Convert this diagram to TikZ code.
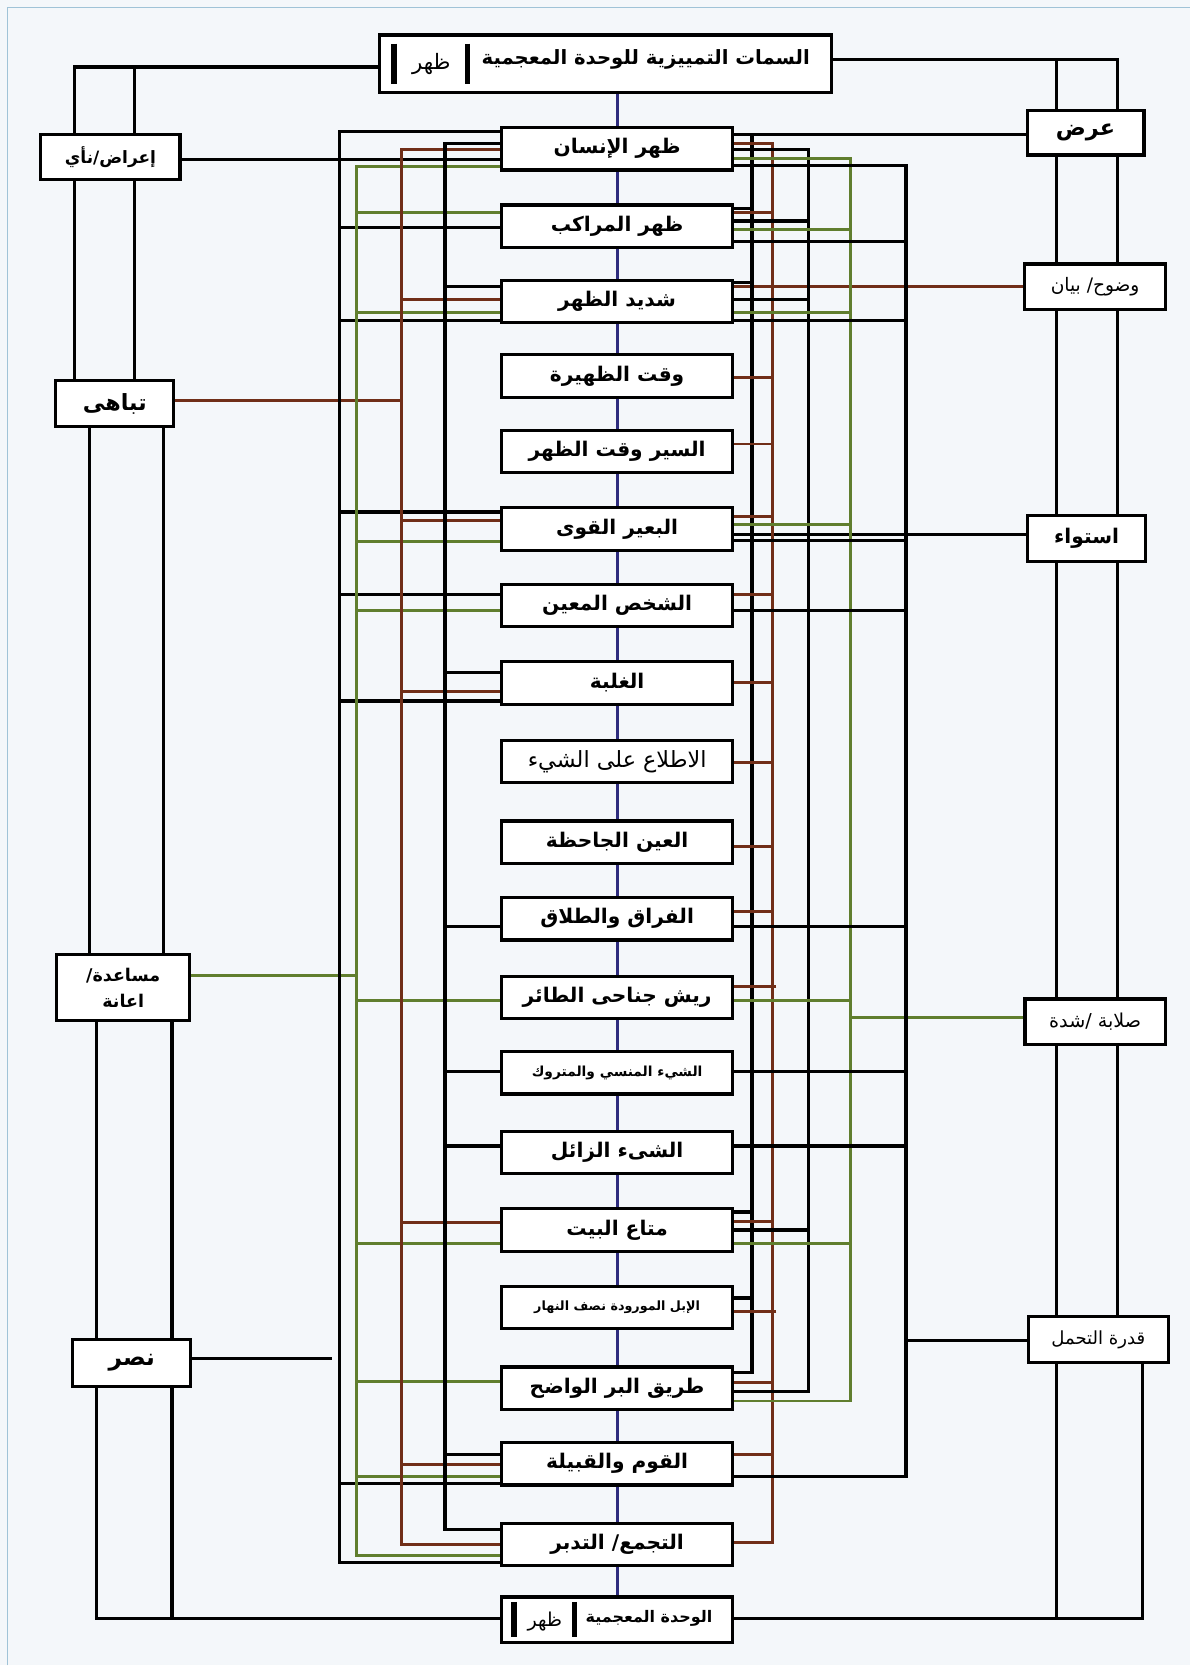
\documentclass[tikz,border=0pt]{standalone}
\usepackage{fontspec}
\newfontfamily\arfont[Script=Arabic]{DejaVu Sans}
\TeXXeTstate=1

\definecolor{lanebrown}{RGB}{112,46,24}
\definecolor{lanegreen}{RGB}{96,126,46}
\definecolor{spinenavy}{RGB}{46,44,126}
\definecolor{paper}{RGB}{244,247,250}
\definecolor{rimblue}{RGB}{160,195,215}

\tikzset{
  box/.style={draw=black, line width=3pt, fill=white, minimum width=218pt,
    minimum height=40pt, inner sep=0pt, font=\arfont\bfseries\fontsize{19}{20}\selectfont},
  sidebox/.style={draw=black, line width=3pt, fill=white, minimum height=42pt,
    inner sep=0pt, align=center, font=\arfont\bfseries\fontsize{16}{20}\selectfont},
  blk/.style={line width=3pt, black},
  brn/.style={line width=2.8pt, lanebrown},
  grn/.style={line width=2.8pt, lanegreen},
  spine/.style={line width=3pt, spinenavy},
  rimline/.style={line width=1pt, rimblue}
}

\begin{document}
\begin{tikzpicture}[x=1pt,y=-1pt]
\fill[paper] (0,0) rectangle (1120,1568);
\draw[rimline] (7,1568) -- (7,7) -- (1120,7);

% title and bottom unit
\draw (570,60) node[box, minimum width=425pt, minimum height=54pt] (top) {};
\draw (608,56) node[font=\arfont\bfseries\fontsize{18.5}{20}\selectfont] (toptext) {\beginR السمات التمييزية للوحدة المعجمية\endR};
\draw (406,60) node[font=\arfont\fontsize{20}{22}\selectfont] (topkey) {\beginR ظهر\endR};
\draw[line width=5pt] (371,41) -- (371,79) (440,41) -- (440,79);

\draw (581,1525) node[box, minimum height=43pt] (bot) {};
\draw (611,1524) node[font=\arfont\bfseries\fontsize{15}{16}\selectfont] (bottext) {\beginR الوحدة المعجمية\endR};
\draw (513,1527) node[font=\arfont\fontsize{18}{20}\selectfont] (botkey) {\beginR ظهر\endR};
\draw[line width=5pt] (484,1508) -- (484,1541) (541,1508) -- (541,1541);

% senses
\draw (581,140) node[box] (b1) {\beginR ظهر الإنسان\endR};
\draw (581,213) node[box] (b2) {\beginR ظهر المراكب\endR};
\draw (581,284) node[box] (b3) {\beginR شديد الظهر\endR};
\draw (581,354) node[box] (b4) {\beginR وقت الظهيرة\endR};
\draw (581,425) node[box] (b5) {\beginR السير وقت الظهر\endR};
\draw (581,498) node[box] (b6) {\beginR البعير القوى\endR};
\draw (581,570) node[box] (b7) {\beginR الشخص المعين\endR};
\draw (581,643) node[box] (b8) {\beginR الغلبة\endR};
\draw (581,717) node[box, font=\arfont\fontsize{21}{22}\selectfont] (b9) {\beginR الاطلاع على الشيء\endR};
\draw (581,793) node[box] (b10) {\beginR العين الجاحظة\endR};
\draw (581,865) node[box] (b11) {\beginR الفراق والطلاق\endR};
\draw (581,939) node[box] (b12) {\beginR ريش جناحى الطائر\endR};
\draw (581,1010) node[box, font=\arfont\bfseries\fontsize{13}{16}\selectfont] (b13) {\beginR الشيء المنسي والمتروك\endR};
\draw (581,1085) node[box] (b14) {\beginR الشىء الزائل\endR};
\draw (581,1158) node[box] (b15) {\beginR متاع البيت\endR};
\draw (581,1231) node[box, font=\arfont\bfseries\fontsize{12}{16}\selectfont] (b16) {\beginR الإبل المورودة نصف النهار\endR};
\draw (581,1307) node[box] (b17) {\beginR طريق البر الواضح\endR};
\draw (581,1378) node[box] (b18) {\beginR القوم والقبيلة\endR};
\draw (581,1454) node[box] (b19) {\beginR التجمع/ التدبر\endR};

% features, left
\draw (104,148) node[sidebox, minimum width=131pt, font=\arfont\bfseries\fontsize{16}{18}\selectfont] (a1) {\beginR إعراض/نأي\endR};
\draw (108,380) node[sidebox, minimum width=111pt, minimum height=43pt, font=\arfont\bfseries\fontsize{21}{22}\selectfont] (a2) {\beginR تباهى\endR};
\draw (116,930) node[sidebox, minimum width=125pt, minimum height=62pt, font=\arfont\bfseries\fontsize{16.5}{24}\selectfont] (a3) {\beginR مساعدة/\endR\\\beginR اعانة\endR};
\draw (124,1283) node[sidebox, minimum width=111pt, minimum height=44pt, font=\arfont\bfseries\fontsize{22}{22}\selectfont] (a4) {\beginR نصر\endR};

% features, right
\draw (1022,125) node[sidebox, minimum width=110pt, font=\arfont\bfseries\fontsize{21}{22}\selectfont] (r1) {\beginR عرض\endR};
\draw (1031,270) node[sidebox, minimum width=133pt, minimum height=43pt, font=\arfont\fontsize{17.5}{18}\selectfont] (r2) {\beginR وضوح/ بيان\endR};
\draw (1023,507) node[sidebox, minimum width=111pt, minimum height=43pt, font=\arfont\bfseries\fontsize{19}{20}\selectfont] (r3) {\beginR استواء\endR};
\draw (1031,962) node[sidebox, minimum width=132pt, minimum height=43pt, font=\arfont\fontsize{18}{18}\selectfont] (r4) {\beginR صلابة /شدة\endR};
\draw (1034,1261) node[sidebox, minimum width=132pt, minimum height=43pt, font=\arfont\fontsize{17}{18}\selectfont] (r5) {\beginR قدرة التحمل\endR};

% navy spine
\draw[spine] (top.south -| b1) -- (b1.north) (b1.south) -- (b2.north)
  (b2.south) -- (b3.north) (b3.south) -- (b4.north) (b4.south) -- (b5.north)
  (b5.south) -- (b6.north) (b6.south) -- (b7.north) (b7.south) -- (b8.north)
  (b8.south) -- (b9.north) (b9.south) -- (b10.north) (b10.south) -- (b11.north)
  (b11.south) -- (b12.north) (b12.south) -- (b13.north) (b13.south) -- (b14.north)
  (b14.south) -- (b15.north) (b15.south) -- (b16.north) (b16.south) -- (b17.north)
  (b17.south) -- (b18.north) (b18.south) -- (b19.north) (b19.south) -- (bot.north);

% outer frame, left
\draw[blk] (top.west |- 0,63) -- (70,63) -- (a1.north -| 70,0) (127,63) -- (a1.north -| 127,0);
\draw[blk] (a1.south -| 70,0) -- (a2.north -| 70,0) (a1.south -| 127,0) -- (a2.north -| 127,0);
\draw[blk] (a2.south -| 84,0) -- (a3.north -| 84,0) (a2.south -| 154,0) -- (a3.north -| 154,0);
\draw[blk] (a3.south -| 91,0) -- (a4.north -| 91,0) (a3.south -| 162,0) -- (a4.north -| 162,0);
\draw[blk] (a4.south -| 91,0) -- (91,1524) -- (bot.west |- 0,1524) (a4.south -| 162,0) -- (162,1524);

% outer frame, right
\draw[blk] (top.east |- 0,56) -- (1052,56) -- (r1.north -| 1052,0) (995,56) -- (r1.north -| 995,0);
\draw[blk] (r1.south -| 995,0) -- (r2.north -| 995,0) (r1.south -| 1052,0) -- (r2.north -| 1052,0);
\draw[blk] (r2.south -| 995,0) -- (r3.north -| 995,0) (r2.south -| 1052,0) -- (r3.north -| 1052,0);
\draw[blk] (r3.south -| 995,0) -- (r4.north -| 995,0) (r3.south -| 1052,0) -- (r4.north -| 1052,0);
\draw[blk] (r4.south -| 995,0) -- (r5.north -| 995,0) (r4.south -| 1052,0) -- (r5.north -| 1052,0);
\draw[blk] (r5.south -| 1076,0) -- (1076,1524) -- (bot.east |- 0,1524) (r5.south -| 995,0) -- (995,1524);

% features to senses
\draw[blk] (a1.east |- 0,150) -- (b1.west |- 0,150);
\draw[brn] (a2.east |- 0,377) -- (378,377);
\draw[grn] (a3.east |- 0,918) -- (336,918);
\draw[blk] (a4.east |- 0,1279) -- (313,1279);
\draw[blk] (r1.west |- 0,127) -- (b1.east |- 0,127);
\draw[brn] (r2.west |- 0,270) -- (b3.east |- 0,270);
\draw[blk] (r3.west |- 0,503) -- (b6.east |- 0,503);
\draw[grn] (r4.west |- 0,958) -- (801,958);
\draw[blk] (r5.west |- 0,1262) -- (853,1262);

% left lanes
\draw[blk] (b1.west |- 0,124) -- (320,124) -- (320,1471) -- (b19.west |- 0,1471)
  (320,214) -- (b2.west |- 0,214) (320,302) -- (b3.west |- 0,302)
  (320,482) -- (b6.west |- 0,482) (320,560) -- (b7.west |- 0,560)
  (320,660) -- (b8.west |- 0,660) (320,1397) -- (b18.west |- 0,1397);
\draw[grn] (b1.west |- 0,157) -- (336,157) -- (336,1464) -- (b19.west |- 0,1464)
  (336,200) -- (b2.west |- 0,200) (336,294) -- (b3.west |- 0,294)
  (336,510) -- (b6.west |- 0,510) (336,575) -- (b7.west |- 0,575)
  (336,942) -- (b12.west |- 0,942) (336,1171) -- (b15.west |- 0,1171)
  (336,1301) -- (b17.west |- 0,1301) (336,1390) -- (b18.west |- 0,1390);
\draw[brn] (b1.west |- 0,141) -- (378,141) -- (378,1454) -- (b19.west |- 0,1454)
  (378,282) -- (b3.west |- 0,282) (378,490) -- (b6.west |- 0,490)
  (378,651) -- (b8.west |- 0,651) (378,1151) -- (b15.west |- 0,1151)
  (378,1379) -- (b18.west |- 0,1379);
\draw[blk] (b1.west |- 0,135) -- (419,135) -- (419,1440) -- (b19.west |- 0,1440)
  (419,270) -- (b3.west |- 0,270) (419,633) -- (b8.west |- 0,633)
  (419,872) -- (b11.west |- 0,872) (419,1009) -- (b13.west |- 0,1009)
  (419,1079) -- (b14.west |- 0,1079) (419,1369) -- (b18.west |- 0,1369);

% right lanes
\draw[blk] (708,127) -- (708,1292) -- (b17.east |- 0,1292)
  (708,196) -- (b2.east |- 0,196) (708,266) -- (b3.east |- 0,266)
  (708,1141) -- (b15.east |- 0,1141) (708,1222) -- (b16.east |- 0,1222);
\draw[brn] (b1.east |- 0,135) -- (727,135) -- (727,1452) -- (b19.east |- 0,1452)
  (727,200) -- (b2.east |- 0,200) (727,355) -- (b4.east |- 0,355)
  (727,418) -- (b5.east |- 0,418) (727,486) -- (b6.east |- 0,486)
  (727,560) -- (b7.east |- 0,560) (727,643) -- (b8.east |- 0,643)
  (727,718) -- (b9.east |- 0,718) (727,797) -- (b10.east |- 0,797)
  (727,858) -- (b11.east |- 0,858) (731,929) -- (b12.east |- 0,929)
  (727,1150) -- (b15.east |- 0,1150) (731,1235) -- (b16.east |- 0,1235)
  (727,1302) -- (b17.east |- 0,1302) (727,1369) -- (b18.east |- 0,1369);
\draw[blk] (b1.east |- 0,141) -- (761,141) -- (761,1310) -- (b17.east |- 0,1310)
  (761,208) -- (b2.east |- 0,208) (761,282) -- (b3.east |- 0,282)
  (761,1158) -- (b15.east |- 0,1158);
\draw[grn] (b1.east |- 0,149) -- (801,149) -- (801,1319) -- (b17.east |- 0,1319)
  (801,216) -- (b2.east |- 0,216) (801,294) -- (b3.east |- 0,294)
  (801,494) -- (b6.east |- 0,494) (801,942) -- (b12.east |- 0,942)
  (801,1171) -- (b15.east |- 0,1171);
\draw[blk] (b1.east |- 0,156) -- (853,156) -- (853,1390) -- (b18.east |- 0,1390)
  (853,227) -- (b2.east |- 0,227) (853,302) -- (b3.east |- 0,302)
  (853,509) -- (b6.east |- 0,509) (853,575) -- (b7.east |- 0,575)
  (853,872) -- (b11.east |- 0,872) (853,1009) -- (b13.east |- 0,1009)
  (853,1079) -- (b14.east |- 0,1079);

\end{tikzpicture}
\end{document}
